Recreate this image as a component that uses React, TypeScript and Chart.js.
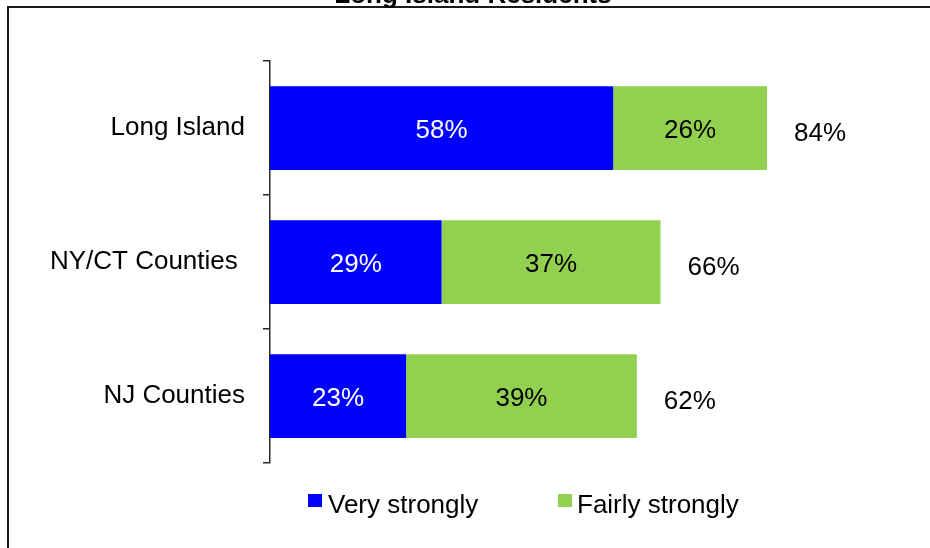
import React, { useEffect, useRef } from 'react';
import { Chart, registerables } from 'chart.js';

Chart.register(...registerables);

const chartTitle = 'Long Island Residents';
const categories = ['Long Island', 'NY/CT Counties ', 'NJ Counties'];
const seriesNames = ['Very strongly', 'Fairly strongly'];
const veryStrongly = [58, 29, 23];
const fairlyStrongly = [26, 37, 39];
const totals = [84, 66, 62];

const COLORS = ['#0000FF', '#92D050'];
const LABEL_COLORS = ['#FFFFFF', '#000000'];
const FONT = '"Liberation Sans", Arial, Helvetica, sans-serif';
const W = 930;
const H = 548;

const decorPlugin = {
  id: 'decor',
  beforeDraw(chart: any) {
    const ctx = chart.ctx;
    ctx.save();
    ctx.fillStyle = '#ffffff';
    ctx.fillRect(0, 0, W, H);
    ctx.fillStyle = '#1a1a1a';
    ctx.fillRect(7, 6, 2, H);
    ctx.fillRect(7, 6, W, 2);
    ctx.restore();
  },
  afterDatasetsDraw(chart: any) {
    const ctx = chart.ctx;
    ctx.save();
    ctx.font = `26px ${FONT}`;
    ctx.textBaseline = 'alphabetic';
    chart.data.datasets.forEach((ds: any, d: number) => {
      const meta = chart.getDatasetMeta(d);
      meta.data.forEach((bar: any, i: number) => {
        const p = bar.getProps(['x', 'y', 'base'], true);
        ctx.fillStyle = LABEL_COLORS[d];
        ctx.textAlign = 'center';
        ctx.fillText(`${ds.data[i]}%`, (p.x + p.base) / 2, p.y + 10.3);
      });
    });
    const xs = chart.scales.x;
    const ys = chart.scales.y;
    ctx.fillStyle = '#000000';
    ctx.textAlign = 'left';
    totals.forEach((t, i) => {
      ctx.fillText(`${t}%`, xs.getPixelForValue(t) + 27, ys.getPixelForValue(i) + 13.3);
    });
    ctx.restore();
  },
  afterDraw(chart: any) {
    const ctx = chart.ctx;
    ctx.save();
    // title (partly cut off at the top)
    ctx.font = `bold 26px ${FONT}`;
    ctx.fillStyle = '#000000';
    ctx.textAlign = 'center';
    ctx.textBaseline = 'alphabetic';
    ctx.fillText(chartTitle, 473, 3);
    // legend
    ctx.font = `26px ${FONT}`;
    ctx.textAlign = 'left';
    const starts = [308, 558];
    seriesNames.forEach((name, k) => {
      ctx.fillStyle = COLORS[k];
      ctx.fillRect(starts[k], 494, 14, 13);
      ctx.fillStyle = '#000000';
      ctx.fillText(name, starts[k] + (k === 0 ? 20 : 19), 512.5);
    });
    ctx.restore();
  },
};

export default function App() {
  const ref = useRef<HTMLCanvasElement | null>(null);

  useEffect(() => {
    if (!ref.current) return;
    const chart = new Chart(ref.current, {
      type: 'bar',
      data: {
        labels: categories,
        datasets: [
          {
            label: seriesNames[0],
            data: veryStrongly,
            backgroundColor: COLORS[0],
            borderWidth: 0,
            barPercentage: 0.625,
            categoryPercentage: 1,
          },
          {
            label: seriesNames[1],
            data: fairlyStrongly,
            backgroundColor: COLORS[1],
            borderWidth: 0,
            barPercentage: 0.625,
            categoryPercentage: 1,
          },
        ],
      },
      options: {
        indexAxis: 'y',
        responsive: false,
        animation: false,
        devicePixelRatio: 1,
        layout: { padding: { left: 0, right: 68.3, top: 61, bottom: 85 } },
        plugins: {
          legend: { display: false },
          title: { display: false },
          tooltip: { enabled: false },
        },
        scales: {
          x: {
            stacked: true,
            min: 0,
            max: 100,
            display: false,
          },
          y: {
            stacked: true,
            afterFit: (scale: any) => {
              scale.width = 270;
            },
            border: { display: true, color: '#2a2a2a', width: 1.5 },
            grid: {
              display: true,
              drawOnChartArea: false,
              drawTicks: true,
              tickLength: 7,
              lineWidth: 1.5,
              color: '#2a2a2a',
              offset: true,
            },
            ticks: {
              padding: 18,
              color: '#000000',
              font: { family: FONT, size: 26 },
            },
          },
        },
      },
      plugins: [decorPlugin],
    });
    return () => chart.destroy();
  }, []);

  return (
    <div style={{ position: 'absolute', left: 0, top: 0, width: W, height: H, background: '#fff' }}>
      <canvas ref={ref} width={W} height={H} style={{ display: 'block', width: W, height: H }} />
    </div>
  );
}
